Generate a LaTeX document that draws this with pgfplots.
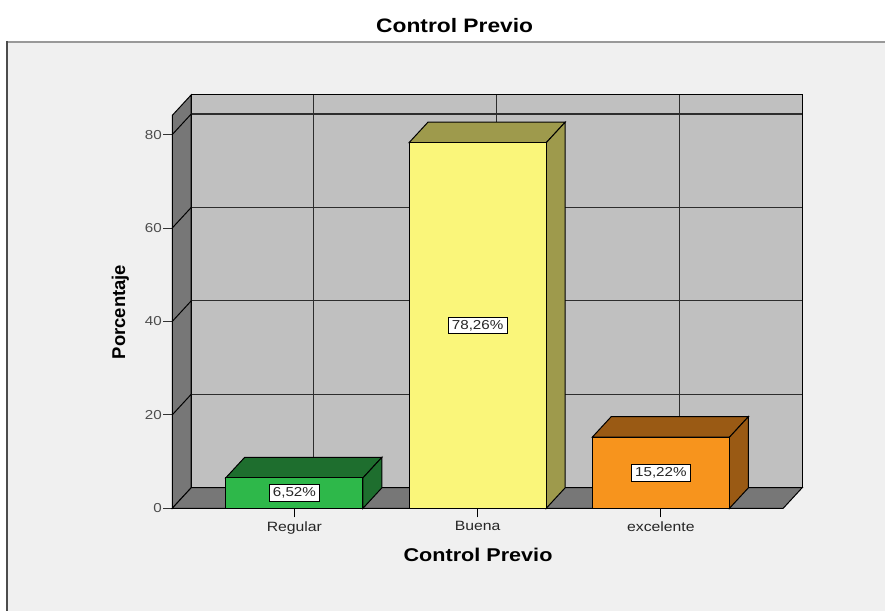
\documentclass[border=0pt]{standalone}
\usepackage{pgfplots}
\pgfplotsset{compat=1.18}
\usepackage{fontspec}
\setmainfont{Liberation Sans}
\definecolor{panel}{RGB}{240,240,240}
\definecolor{wall}{RGB}{192,192,192}
\definecolor{floorc}{RGB}{119,119,119}
\definecolor{gridc}{RGB}{45,45,45}
\definecolor{gfront}{RGB}{46,184,74}
\definecolor{gdark}{RGB}{30,110,46}
\definecolor{yfront}{RGB}{250,246,122}
\definecolor{ydark}{RGB}{158,154,76}
\definecolor{ofront}{RGB}{247,148,29}
\definecolor{odark}{RGB}{154,90,20}
\begin{document}
\begin{tikzpicture}
\fill[white] (-172.5pt,509pt) rectangle (713.5pt,-103pt);
\fill[panel] (-165.5pt,467pt) rectangle (713.5pt,-103pt);
\draw[line width=2.5pt, black!40] (-165.5pt,467pt) -- (713.5pt,467pt);
\draw[line width=1.3pt, black!70] (-165.5pt,468pt) -- (-165.5pt,-103pt);
\begin{axis}[
  scale only axis, width=630.8pt, height=414pt,
  xmin=-0.6665, xmax=2.771, ymin=0, ymax=88.5,
  axis lines*=left, axis line style={draw=none},
  clip=false, axis on top=false,
  xtick={0,1,2}, xticklabels={Regular,Buena,excelente},
  ytick={0,20,40,60,80},
  tick align=outside, xtick align=outside, ytick align=outside,
  major tick length=9pt,
  xtick style={draw=black, line width=1.2pt},
  ytick style={draw=black!80, line width=1pt},
  /pgf/number format/assume math mode=true,
  xticklabel style={font=\fontsize{13.5}{16}\selectfont, xscale=1.17, text=black!85, inner sep=1pt, yshift=-3pt},
  yticklabel style={font=\fontsize{13}{15}\selectfont, xscale=1.17, text=black!70, inner sep=1pt},
  xlabel={Control Previo},
  xlabel style={at={(rel axis cs:0.4854,-0.1118)}, anchor=center, font=\bfseries\fontsize{18.5}{21}\selectfont, xscale=1.17, inner sep=0pt},
  ylabel={Porcentaje},
  ylabel style={at={(rel axis cs:-0.0824,0.4746)}, anchor=center, font=\bfseries\fontsize{18.5}{21}\selectfont, inner sep=0pt},
]
% back wall
\addplot[fill=wall, draw=black, line width=1pt] coordinates {(-0.563,4.4) (2.771,4.4) (2.771,88.5) (-0.563,88.5)} -- cycle;
% back wall grid
\addplot[gridc, line width=1.1pt] coordinates {(-0.563,24.4) (2.771,24.4)};
\addplot[gridc, line width=1.1pt] coordinates {(-0.563,44.4) (2.771,44.4)};
\addplot[gridc, line width=1.1pt] coordinates {(-0.563,64.4) (2.771,64.4)};
\addplot[gridc, line width=1.1pt] coordinates {(-0.563,84.4) (2.771,84.4)};
\addplot[gridc, line width=1.1pt] coordinates {(0.1035,4.4) (0.1035,88.5)};
\addplot[gridc, line width=1.1pt] coordinates {(1.1035,4.4) (1.1035,88.5)};
\addplot[gridc, line width=1.1pt] coordinates {(2.1035,4.4) (2.1035,88.5)};
% left wall
\addplot[fill=floorc, draw=black, line width=1pt] coordinates {(-0.6665,0) (-0.6665,84.1) (-0.563,88.5) (-0.563,4.4)} -- cycle;
\addplot[black, line width=1pt] coordinates {(-0.6665,20) (-0.563,24.4)};
\addplot[black, line width=1pt] coordinates {(-0.6665,40) (-0.563,44.4)};
\addplot[black, line width=1pt] coordinates {(-0.6665,60) (-0.563,64.4)};
\addplot[black, line width=1pt] coordinates {(-0.6665,80) (-0.563,84.4)};
% floor
\addplot[fill=floorc, draw=black, line width=1pt] coordinates {(-0.6665,0) (2.6675,0) (2.771,4.4) (-0.563,4.4)} -- cycle;
% category tick marks below the floor edge
\addplot[black, line width=1.2pt] coordinates {(0,0) (0,-1.75)};
\addplot[black, line width=1.2pt] coordinates {(1,0) (1,-1.75)};
\addplot[black, line width=1.2pt] coordinates {(2,0) (2,-1.75)};
% Regular
\addplot[fill=gdark, draw=black, line width=1pt] coordinates {(-0.3744,6.52) (0.3744,6.52) (0.4779,10.92) (-0.2709,10.92)} -- cycle;
\addplot[fill=gdark, draw=black, line width=1pt] coordinates {(0.3744,0) (0.4779,4.4) (0.4779,10.92) (0.3744,6.52)} -- cycle;
\addplot[ybar, bar width=0.7488, bar shift=0pt, fill=gfront, draw=black, line width=1pt] coordinates {(0,6.52)};
% Buena
\addplot[fill=ydark, draw=black, line width=1pt] coordinates {(0.6256,78.26) (1.3744,78.26) (1.4779,82.66) (0.7291,82.66)} -- cycle;
\addplot[fill=ydark, draw=black, line width=1pt] coordinates {(1.3744,0) (1.4779,4.4) (1.4779,82.66) (1.3744,78.26)} -- cycle;
\addplot[ybar, bar width=0.7488, bar shift=0pt, fill=yfront, draw=black, line width=1pt] coordinates {(1,78.26)};
% excelente
\addplot[fill=odark, draw=black, line width=1pt] coordinates {(1.6256,15.22) (2.3744,15.22) (2.4779,19.62) (1.7291,19.62)} -- cycle;
\addplot[fill=odark, draw=black, line width=1pt] coordinates {(2.3744,0) (2.4779,4.4) (2.4779,19.62) (2.3744,15.22)} -- cycle;
\addplot[ybar, bar width=0.7488, bar shift=0pt, fill=ofront, draw=black, line width=1pt] coordinates {(2,15.22)};
% value labels
\addplot[draw=none, nodes near coords, point meta=explicit symbolic,
  nodes near coords align=center,
  every node near coord/.append style={anchor=center, fill=white, draw=black, line width=0.8pt, inner sep=3pt, font=\fontsize{13}{15}\selectfont, xscale=1.17, text=black!85}]
  coordinates {(0,3.26) [6,52\%] (1,39.13) [78,26\%] (2,7.61) [15,22\%]};
\end{axis}
\node[font=\bfseries\fontsize{19.5}{22}\selectfont, xscale=1.17, inner sep=0pt] at (282.8pt,483.5pt) {Control Previo};
\end{tikzpicture}
\end{document}
